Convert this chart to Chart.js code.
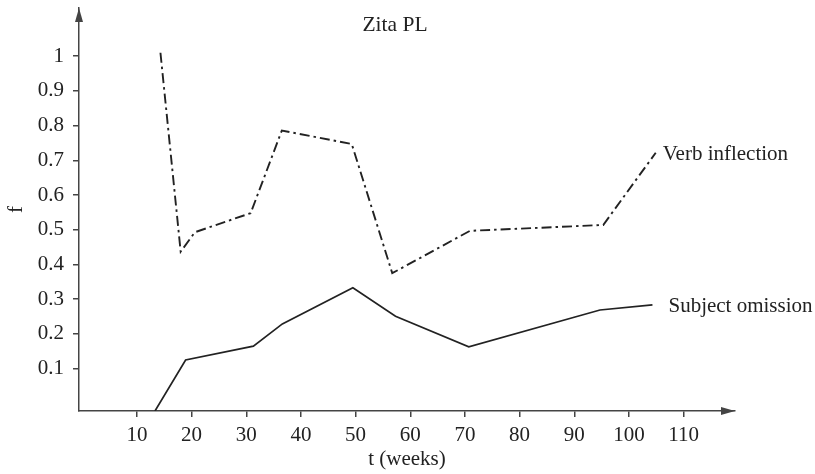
<!DOCTYPE html>
<html>
<head>
<meta charset="utf-8">
<script src="https://cdn.jsdelivr.net/npm/chart.js@4.4.1/dist/chart.umd.min.js"></script>
<style>
  html, body { margin: 0; padding: 0; background: #fff; }
  #wrap { width: 815px; height: 474px; }
</style>
</head>
<body>
<div id="wrap"><canvas id="chart"></canvas></div>
<script>
const chartTitle = "Zita PL";
const xTicks = [10, 20, 30, 40, 50, 60, 70, 80, 90, 100, 110];
const yTicks = [0.1, 0.2, 0.3, 0.4, 0.5, 0.6, 0.7, 0.8, 0.9, 1];

const verbWeeks = [14.3, 18.0, 20.6, 30.8, 36.5, 49.3, 56.7, 70.9, 95.3, 104.9];
const verbValues = [1.01, 0.437, 0.493, 0.548, 0.786, 0.747, 0.375, 0.497, 0.514, 0.722];

const subjWeeks = [13.3, 18.9, 31.3, 36.6, 49.5, 57.3, 70.7, 94.7, 104.3];
const subjValues = [-0.022, 0.125, 0.165, 0.229, 0.333, 0.251, 0.163, 0.269, 0.284];

const ink = "#222";
const axisInk = "#444";
const serif = "'Liberation Serif', 'Times New Roman', serif";

function toPoints(xs, ys) {
  return xs.map((x, i) => ({ x: x, y: ys[i] }));
}

// arrows, title and the line-end labels
const decorations = {
  id: "decorations",
  afterDraw(chart) {
    const ctx = chart.ctx;
    const a = chart.chartArea;
    ctx.save();
    ctx.fillStyle = axisInk;
    // y arrow
    ctx.beginPath();
    ctx.moveTo(a.left, a.top);
    ctx.lineTo(a.left - 4, a.top + 14);
    ctx.lineTo(a.left + 4, a.top + 14);
    ctx.closePath();
    ctx.fill();
    // x arrow
    ctx.beginPath();
    ctx.moveTo(a.right, a.bottom);
    ctx.lineTo(a.right - 14, a.bottom - 4);
    ctx.lineTo(a.right - 14, a.bottom + 4);
    ctx.closePath();
    ctx.fill();

    ctx.fillStyle = ink;
    ctx.font = "21.5px " + serif;
    ctx.textBaseline = "middle";
    ctx.textAlign = "center";
    ctx.fillText(chartTitle, 395, 25);

    ctx.font = "21px " + serif;
    ctx.textAlign = "left";
    chart.data.datasets.forEach((ds, i) => {
      const meta = chart.getDatasetMeta(i);
      const last = meta.data[meta.data.length - 1];
      ctx.fillText(ds.label, last.x + ds.labelGap, last.y + 2);
    });
    ctx.restore();
  }
};

new Chart(document.getElementById("chart"), {
  type: "line",
  data: {
    datasets: [
      {
        label: "Verb inflection",
        data: toPoints(verbWeeks, verbValues),
        borderColor: ink,
        borderWidth: 1.9,
        borderDash: [10, 4, 2.5, 4],
        pointRadius: 0,
        tension: 0,
        labelGap: 7,
      },
      {
        label: "Subject omission",
        data: toPoints(subjWeeks, subjValues),
        borderColor: ink,
        borderWidth: 1.7,
        pointRadius: 0,
        tension: 0,
        labelGap: 16,
      },
    ],
  },
  options: {
    responsive: true,
    maintainAspectRatio: false,
    animation: false,
    layout: { padding: { top: 8, right: 80, left: 0, bottom: 0 } },
    plugins: {
      legend: { display: false },
      tooltip: { enabled: false },
    },
    scales: {
      x: {
        type: "linear",
        min: -0.6,
        max: 119.4,
        afterBuildTicks: (s) => { s.ticks = xTicks.map((v) => ({ value: v })); },
        afterFit: (s) => { s.height = 63; s.paddingLeft = 0; s.paddingRight = 0; },
        grid: { drawOnChartArea: false, drawTicks: true, tickLength: 6, color: axisInk, lineWidth: 1.5 },
        border: { display: true, color: axisInk, width: 1.5 },
        ticks: { color: ink, font: { family: serif, size: 21 }, padding: 6, maxRotation: 0, autoSkip: false },
        title: { display: true, text: "t (weeks)", color: ink, font: { family: serif, size: 21 }, padding: { top: 0, bottom: 2 } },
      },
      y: {
        type: "linear",
        min: -0.022,
        max: 1.139,
        afterBuildTicks: (s) => { s.ticks = yTicks.map((v) => ({ value: v })); },
        afterFit: (s) => { s.width = 79; s.paddingTop = 0; s.paddingBottom = 0; },
        grid: { drawOnChartArea: false, drawTicks: true, tickLength: 6, color: axisInk, lineWidth: 1.5 },
        border: { display: true, color: axisInk, width: 1.5 },
        ticks: {
          color: ink,
          font: { family: serif, size: 21 },
          padding: 9,
          autoSkip: false,
          callback: (v) => String(Math.round(v * 10) / 10),
        },
        title: { display: true, text: "f", color: ink, font: { family: serif, size: 21 }, padding: { top: 4, bottom: 0 } },
      },
    },
  },
  plugins: [decorations],
});
</script>
</body>
</html>
